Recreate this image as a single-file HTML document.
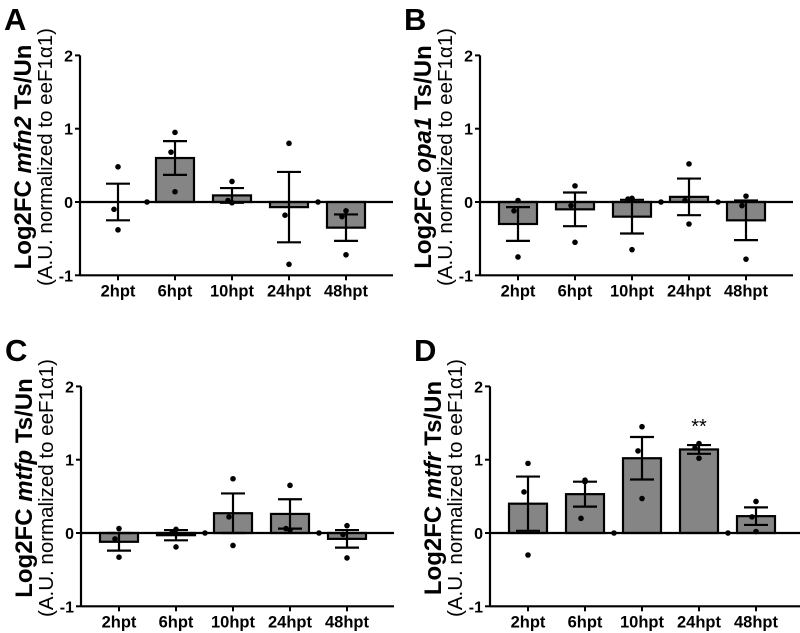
<!DOCTYPE html>
<html><head><meta charset="utf-8"><style>html,body{margin:0;padding:0;background:#fff}svg{display:block}</style></head>
<body>
<svg id="s" width="800" height="633" viewBox="0 0 800 633" xmlns="http://www.w3.org/2000/svg" font-family="Liberation Sans, Arial, sans-serif"></svg>
<script>
const P=[
 {L:'A',g:'mfn2',ax:80,y0:202,u:73.3,bars:[0,0.6,0.09,-0.07,-0.35],e:[0.25,0.23,0.1,0.48,0.18],
  pts:[[0.48,-0.1,-0.38],[0.95,0.68,0.14],[0.28,0.02,-0.01],[0.8,-0.18,-0.85],[-0.12,-0.2,-0.72]],z:[1,4]},
 {L:'B',g:'opa1',ax:480,y0:202,u:73.3,bars:[-0.3,-0.1,-0.2,0.07,-0.25],e:[0.23,0.23,0.23,0.25,0.27],
  pts:[[0.02,-0.12,-0.75],[0.22,-0.05,-0.55],[0.05,0.04,-0.65],[0.52,0.02,-0.3],[0.08,-0.05,-0.78]],z:[3,4]},
 {L:'C',g:'mtfp',ax:81,y0:533,u:73.3,bars:[-0.12,-0.03,0.27,0.26,-0.08],e:[0.12,0.07,0.27,0.2,0.12],
  pts:[[0.06,-0.08,-0.33],[0.05,0.0,-0.19],[0.74,0.22,-0.17],[0.65,0.06,0.04],[0.1,-0.02,-0.34]],z:[2,4]},
 {L:'D',g:'mtfr',ax:490,y0:533,u:73.3,bars:[0.4,0.53,1.02,1.14,0.23],e:[0.37,0.17,0.29,0.06,0.12],
  pts:[[0.95,0.56,-0.3],[0.72,0.2,0.7],[1.45,1.12,0.47],[1.22,1.16,1.02],[0.43,0.22,0.02]],z:[2,4]}
];
const labs=['2hpt','6hpt','10hpt','24hpt','48hpt'];
let h='';
P.forEach(p=>{
 const Y=v=>p.y0-v*p.u, X=i=>p.ax+38+i*57, ox=p.ax-80;
 const top=Y(2),bot=Y(-1);
 h+=`<text x="${ox+4}" y="${p.y0-172}" font-size="31" font-weight="bold">${p.L}</text>`;
 p.bars.forEach((b,i)=>{ if(Math.abs(b)>0.01){const y=Math.min(Y(b),p.y0),hh=Math.abs(Y(b)-p.y0);
  h+=`<rect x="${X(i)-19}" y="${y}" width="38" height="${hh}" fill="#858585" stroke="#000" stroke-width="2.2"/>`;}});
 h+=`<line x1="${p.ax}" y1="${top}" x2="${p.ax}" y2="${bot}" stroke="#000" stroke-width="2.2"/>`;
 h+=`<line x1="${p.ax}" y1="${bot}" x2="${p.ax+313}" y2="${bot}" stroke="#000" stroke-width="2.2"/>`;
 h+=`<line x1="${p.ax}" y1="${p.y0}" x2="${p.ax+313}" y2="${p.y0}" stroke="#000" stroke-width="2.2"/>`;
 [2,1,0,-1].forEach(v=>{h+=`<line x1="${p.ax-5}" y1="${Y(v)}" x2="${p.ax}" y2="${Y(v)}" stroke="#000" stroke-width="2"/><text x="${p.ax-7}" y="${Y(v)+6}" font-size="16" font-weight="bold" text-anchor="end">${v}</text>`;});
 labs.forEach((l,i)=>{h+=`<line x1="${X(i)}" y1="${bot}" x2="${X(i)}" y2="${bot+5}" stroke="#000" stroke-width="2"/><text x="${X(i)}" y="${bot+21}" font-size="16.5" font-weight="bold" text-anchor="middle">${l}</text>`;});
 p.bars.forEach((b,i)=>{const a=Y(b+p.e[i]),c=Y(b-p.e[i]);
  h+=`<line x1="${X(i)}" y1="${a}" x2="${X(i)}" y2="${c}" stroke="#000" stroke-width="2.2"/><line x1="${X(i)-12}" y1="${a}" x2="${X(i)+12}" y2="${a}" stroke="#000" stroke-width="2.2"/><line x1="${X(i)-12}" y1="${c}" x2="${X(i)+12}" y2="${c}" stroke="#000" stroke-width="2.2"/>`;});
 p.pts.forEach((ps,i)=>ps.forEach((v,k)=>{h+=`<circle cx="${X(i)+(k==1?-4:0)}" cy="${Y(v)}" r="2.8" fill="#000"/>`;}));
 p.z.forEach(i=>{h+=`<circle cx="${X(i)-28}" cy="${p.y0}" r="2.8" fill="#000"/>`;});
 const cy=p.y0-45;
 h+=`<text transform="translate(${ox+31},${cy}) rotate(-90)" font-size="24" font-weight="bold" text-anchor="middle">Log2FC <tspan font-style="italic">${p.g}</tspan> Ts/Un</text>`;
 h+=`<text transform="translate(${ox+52},${cy}) rotate(-90)" font-size="20.5" text-anchor="middle">(A.U. normalized to eeF1α1)</text>`;
 if(p.L=='D')h+=`<text x="${X(3)}" y="${Y(1.5)+10}" font-size="20" text-anchor="middle">**</text>`;
});
document.getElementById('s').innerHTML=h;
</script>
</body></html>
